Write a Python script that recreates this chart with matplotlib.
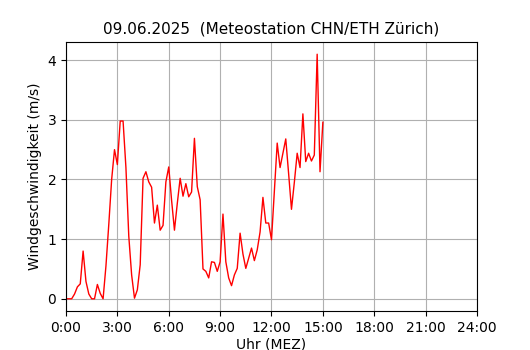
import matplotlib

matplotlib.use("Agg")

import matplotlib.pyplot as plt
import numpy as np

# 10-minute wind speed means, 00:00 .. 15:00
wind_ms = [
    0.00, 0.00, 0.00, 0.08, 0.20, 0.25, 0.80, 0.29, 0.08, 0.00,
    0.00, 0.24, 0.09, 0.00, 0.55, 1.25, 2.00, 2.50, 2.25, 2.98,
    2.98, 2.20, 1.05, 0.40, 0.01, 0.15, 0.57, 2.02, 2.13, 1.96,
    1.87, 1.27, 1.57, 1.15, 1.23, 1.96, 2.21, 1.65, 1.15, 1.60,
    2.02, 1.72, 1.93, 1.71, 1.79, 2.69, 1.88, 1.66, 0.50, 0.46,
    0.35, 0.62, 0.61, 0.46, 0.62, 1.42, 0.62, 0.35, 0.22, 0.40,
    0.51, 1.10, 0.75, 0.51, 0.68, 0.85, 0.64, 0.82, 1.12, 1.70,
    1.27, 1.27, 0.99, 1.80, 2.61, 2.20, 2.44, 2.68, 2.10, 1.50,
    1.95, 2.44, 2.20, 3.10, 2.30, 2.44, 2.31, 2.41, 4.10, 2.13,
    2.96,
]
hours = np.arange(len(wind_ms)) * 10 / 60

tick_hours = [0, 3, 6, 9, 12, 15, 18, 21, 24]
tick_labels = ["0:00", "3:00", "6:00", "9:00", "12:00", "15:00", "18:00", "21:00", "24:00"]

fig = plt.figure(figsize=(5.3, 3.5), dpi=100)
ax = fig.add_axes([0.1245, 0.1114, 0.7755, 0.7686])
ax.plot(hours, wind_ms, color="red", linewidth=1)
ax.set_xlim(0, 24)
ax.set_xticks(tick_hours)
ax.set_xticklabels(tick_labels)
ax.set_yticks([0, 1, 2, 3, 4])
ax.grid(True, color="#b0b0b0")
ax.set_xlabel("Uhr (MEZ)", labelpad=2)
ax.set_ylabel("Windgeschwindigkeit (m/s)")
ax.set_title("09.06.2025  (Meteostation CHN/ETH Zürich)", fontsize=11)
fig.savefig("out.png", dpi=100)
plt.close(fig)
